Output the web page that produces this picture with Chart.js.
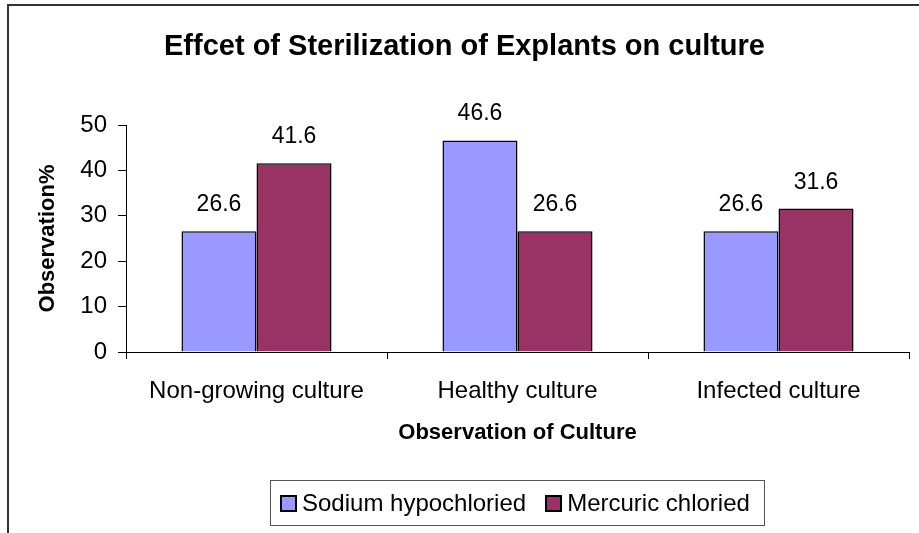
<!DOCTYPE html>
<html>
<head>
<meta charset="utf-8">
<script src="https://cdn.jsdelivr.net/npm/chart.js@4/dist/chart.umd.min.js"></script>
<style>
  body { margin: 0; background: #fff; overflow: hidden; font-family: "Liberation Sans", Arial, sans-serif; }
  #wrap { position: relative; width: 919px; height: 533px; }
  #frame { position: absolute; left: 7px; top: 4px; width: 1000px; height: 1000px; border: 2px solid #333; pointer-events: none; }
  #legend { position: absolute; left: 270px; top: 480px; width: 495px; height: 46px; border: 1px solid #555;
            display: flex; align-items: center; font-size: 24px; color: #000; box-sizing: border-box; padding-left: 9px;
            white-space: nowrap; }
  .item { display: flex; align-items: center; margin-right: 19px; flex-shrink: 0; }
  .sw { width: 13px; height: 13px; border: 2px solid #000; margin-right: 5px; box-sizing: content-box; flex-shrink: 0; }
</style>
</head>
<body>
<div id="wrap">
  <canvas id="chart1" width="919" height="533"></canvas>
  <div id="frame"></div>
  <div id="legend"></div>
</div>
<script>
const categories = ["Non-growing culture", "Healthy culture", "Infected culture"];
const seriesNames = ["Sodium hypochloried", "Mercuric chloried"];
const sodiumValues = [26.6, 46.6, 26.6];
const mercuricValues = [41.6, 26.6, 31.6];
const barColors = ["#9999FF", "#993366"];

const fontFamily = '"Liberation Sans", Arial, sans-serif';

// value labels above each bar
const valueLabels = {
  id: 'valueLabels',
  afterDatasetsDraw(chart) {
    const ctx = chart.ctx;
    ctx.save();
    ctx.font = '23px ' + fontFamily;
    ctx.fillStyle = '#000';
    ctx.textAlign = 'center';
    ctx.textBaseline = 'alphabetic';
    chart.data.datasets.forEach((ds, i) => {
      chart.getDatasetMeta(i).data.forEach((bar, j) => {
        ctx.fillText(ds.data[j].toFixed(1), bar.x, bar.y - 20);
      });
    });
    ctx.restore();
  }
};

new Chart("chart1", {
  type: "bar",
  data: {
    labels: categories,
    datasets: [{
      label: seriesNames[0],
      data: sodiumValues,
      backgroundColor: barColors[0],
      borderColor: '#000',
      borderWidth: 1.5
    }, {
      label: seriesNames[1],
      data: mercuricValues,
      backgroundColor: barColors[1],
      borderColor: '#000',
      borderWidth: 1.5
    }]
  },
  options: {
    responsive: false,
    devicePixelRatio: 1,
    animation: false,
    layout: { padding: { left: 20, right: 10, top: 0, bottom: 81 } },
    datasets: { bar: { categoryPercentage: 0.575, barPercentage: 1 } },
    plugins: {
      legend: { display: false },
      tooltip: { enabled: false },
      title: {
        display: true,
        text: 'Effcet of Sterilization of Explants on culture',
        color: '#000',
        font: { family: fontFamily, size: 29, weight: 'bold' },
        padding: { top: 30, bottom: 60.2 }
      }
    },
    scales: {
      x: {
        afterFit(scale) { scale.height = 100; },
        grid: { drawOnChartArea: false, drawTicks: true, tickLength: 7, color: '#000', offset: true },
        border: { display: true, color: '#000', width: 1 },
        ticks: { color: '#000', padding: 18, font: { family: fontFamily, size: 24 } },
        title: {
          display: true,
          text: 'Observation of Culture',
          color: '#000',
          font: { family: fontFamily, size: 22, weight: 'bold' },
          padding: { top: 0, bottom: 6 }
        }
      },
      y: {
        min: 0,
        max: 50,
        afterFit(scale) { scale.width = 106; },
        grid: { drawOnChartArea: false, drawTicks: true, tickLength: 8, color: '#000' },
        border: { display: true, color: '#000', width: 1 },
        ticks: { stepSize: 10, color: '#000', padding: 11, font: { family: fontFamily, size: 24 } },
        title: {
          display: true,
          text: 'Observation%',
          color: '#000',
          font: { family: fontFamily, size: 22, weight: 'bold' },
          padding: { top: 15, bottom: 0 }
        }
      }
    }
  },
  plugins: [valueLabels]
});

// legend box, centred under the plot area like the original
const legendBox = document.getElementById('legend');
seriesNames.forEach((name, i) => {
  const item = document.createElement('div');
  item.className = 'item';
  const sw = document.createElement('span');
  sw.className = 'sw';
  sw.style.background = barColors[i];
  const txt = document.createElement('span');
  txt.textContent = name;
  item.appendChild(sw);
  item.appendChild(txt);
  legendBox.appendChild(item);
});
</script>
</body>
</html>
